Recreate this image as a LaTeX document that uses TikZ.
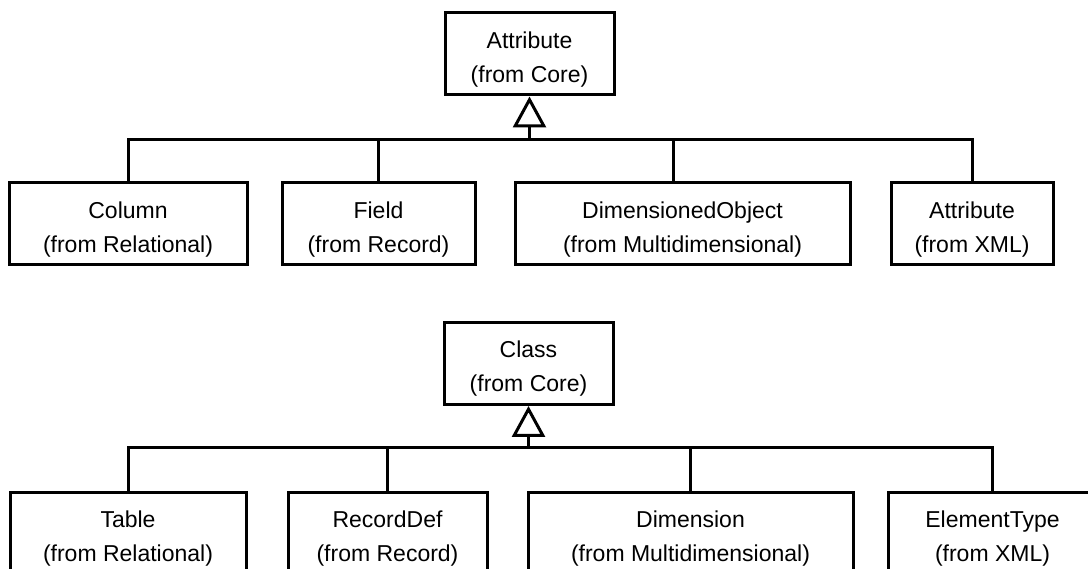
\documentclass[tikz,border=0pt]{standalone}
\usepackage{fontspec}
\setmainfont{Liberation Sans}
\usetikzlibrary{arrows.meta}
% tall strut on the first line pushes the two text lines a little lower in each box
\newcommand\boxtop{\rule{0pt}{27pt}}
\begin{document}
\begin{tikzpicture}[x=1pt,y=-1pt,
  umlbox/.style={draw,line width=3pt,rectangle,inner sep=0pt,
    minimum height=82pt,align=center,
    font=\fontsize{23}{34}\selectfont},
  link/.style={line width=3pt,line join=miter},
  generalize/.style={link,-{Triangle[open,length=31pt,width=33pt,line join=miter]}}]
\useasboundingbox (0,0) rectangle (1088,569);
\clip (0,0) rectangle (1088,569);

% upper hierarchy: Attribute
\node[umlbox,minimum width=169pt] (attr) at (529.5,54) {\boxtop Attribute\\(from Core)};
\node[umlbox,minimum width=238pt] (col)  at (128,224)   {\boxtop Column\\(from Relational)};
\node[umlbox,minimum width=193pt] (fld)  at (378.5,224) {\boxtop Field\\(from Record)};
\node[umlbox,minimum width=335pt] (dobj) at (682.5,224) {\boxtop DimensionedObject\\(from Multidimensional)};
\node[umlbox,minimum width=162pt] (xattr) at (972,224)  {\boxtop Attribute\\(from XML)};
\coordinate (busA) at (529.5,140);

\draw[generalize] (busA) -- (attr.south);
\draw[link] (col.north) |- (busA) -| (xattr.north);
\draw[link] (fld.north) -- (fld.north |- busA);
\draw[link] ([xshift=-9.5pt]dobj.north) -- ([xshift=-9.5pt]dobj.north |- busA);

% lower hierarchy: Class
\node[umlbox,minimum width=169pt] (cls) at (528.5,363.5) {\boxtop Class\\(from Core)};
\node[umlbox,minimum width=236pt] (tbl)  at (128,533)   {\boxtop Table\\(from Relational)};
\node[umlbox,minimum width=199pt] (rdef) at (387.5,533) {\boxtop RecordDef\\(from Record)};
\node[umlbox,minimum width=325pt] (dim)  at (690.5,533) {\boxtop Dimension\\(from Multidimensional)};
\node[umlbox,minimum width=209pt] (etype) at (992.5,533) {\boxtop ElementType\\(from XML)};
\coordinate (busB) at (528.5,448);

\draw[generalize] (busB) -- (cls.south);
\draw[link] (tbl.north) |- (busB) -| (etype.north);
\draw[link] (rdef.north) -- (rdef.north |- busB);
\draw[link] (dim.north) -- (dim.north |- busB);
\end{tikzpicture}
\end{document}
